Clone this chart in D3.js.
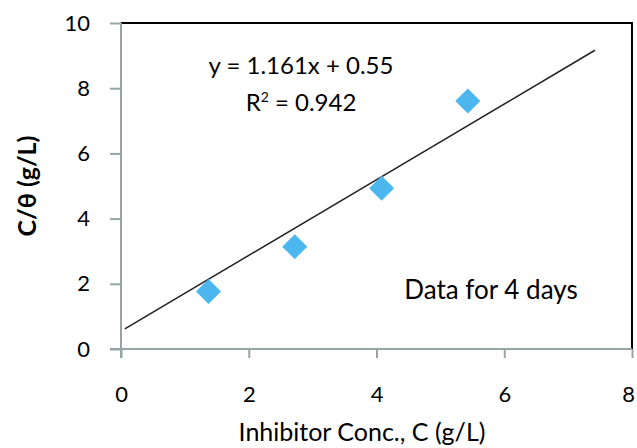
<!DOCTYPE html>
<html>
<head>
<meta charset="utf-8">
<script src="https://cdn.jsdelivr.net/npm/d3@7"></script>
<style>
	body { margin: 0; background: #fff; }
	text { font-family: Lato, "Open Sans", sans-serif; fill: #000; }
</style>
</head>
<body>
<svg id="chart" width="637" height="448"></svg>
<script>
// data
const concX = [1.37, 2.72, 4.08, 5.43];
const ratioY = [1.76, 3.14, 4.93, 7.61];
const trendSlope = 1.161;
const trendIntercept = 0.55;
const trendRange = [0.06, 7.42];
const xTicks = [0, 2, 4, 6, 8];
const yTicks = [0, 2, 4, 6, 8, 10];

const svg = d3.select("#chart");
const margin = { top: 23, right: 5, bottom: 99, left: 121 };
const width = +svg.attr("width");
const height = +svg.attr("height");

const x = d3.scaleLinear().domain([0, 8]).range([margin.left, width - margin.right]);
const y = d3.scaleLinear().domain([0, 10]).range([height - margin.bottom, margin.top]);

// frame: black top and right
svg.append("path")
	.attr("d", `M${x(0)},${y(10)}H${x(8)}V${y(0)}`)
	.attr("fill", "none")
	.attr("stroke", "#000")
	.attr("stroke-width", 2);

// axes
const axisColor = "#95a5a5";
const yAxis = svg.append("g")
	.attr("transform", `translate(${x(0)},0)`)
	.call(d3.axisLeft(y).tickValues(yTicks).tickSize(11).tickPadding(20));
const xAxis = svg.append("g")
	.attr("transform", `translate(0,${y(0)})`)
	.call(d3.axisBottom(x).tickValues(xTicks).tickSize(9).tickPadding(28));

[xAxis, yAxis].forEach((g) => {
	g.select(".domain").remove();
	g.selectAll(".tick line").attr("stroke", axisColor).attr("stroke-width", 2);
	g.selectAll(".tick text")
		.style("font-family", "Lato, sans-serif")
		.style("font-size", "22px")
		.attr("fill", "#000");
});
// last x label sits on the page edge, nudge it in so it stays whole
xAxis.selectAll(".tick text").filter((d) => d === 8).attr("dx", -4);

// axis lines extend slightly past the origin
svg.append("line")
	.attr("x1", x(0)).attr("x2", x(0))
	.attr("y1", y(10)).attr("y2", y(0) + 9)
	.attr("stroke", axisColor).attr("stroke-width", 2);
svg.append("line")
	.attr("x1", x(0) - 11).attr("x2", x(8))
	.attr("y1", y(0)).attr("y2", y(0))
	.attr("stroke", axisColor).attr("stroke-width", 2);

// trendline
svg.append("line")
	.attr("x1", x(trendRange[0]))
	.attr("y1", y(trendSlope * trendRange[0] + trendIntercept))
	.attr("x2", x(trendRange[1]))
	.attr("y2", y(trendSlope * trendRange[1] + trendIntercept))
	.attr("stroke", "#222")
	.attr("stroke-width", 1.5);

// diamond markers
const r = 12.5;
svg.append("g")
	.selectAll("path")
	.data(concX)
	.join("path")
	.attr("transform", (d, i) => `translate(${x(d)},${y(ratioY[i])})`)
	.attr("d", `M0,${-r}L${r},0L0,${r}L${-r},0Z`)
	.attr("fill", "#4cb6ef");

// equation and R²
svg.append("text")
	.attr("x", 301)
	.attr("y", 74)
	.attr("text-anchor", "middle")
	.style("font-size", "24px")
	.text(`y = ${trendSlope}x + ${trendIntercept}`);
const r2 = svg.append("text")
	.attr("x", 301)
	.attr("y", 111)
	.attr("text-anchor", "middle")
	.style("font-size", "24px");
r2.append("tspan").text("R");
r2.append("tspan").attr("dy", -9).style("font-size", "14px").text("2");
r2.append("tspan").attr("dy", 9).text(" = 0.942");

svg.append("text")
	.attr("x", 491)
	.attr("y", 299)
	.attr("text-anchor", "middle")
	.style("font-size", "26px")
	.text("Data for 4 days");

// axis titles
svg.append("text")
	.attr("x", 362)
	.attr("y", 441)
	.attr("text-anchor", "middle")
	.style("font-size", "25px")
	.text("Inhibitor Conc., C (g/L)");
svg.append("text")
	.attr("transform", "translate(36,186) rotate(-90)")
	.attr("text-anchor", "middle")
	.style("font-size", "25px")
	.style("font-weight", "bold")
	.text("C/θ (g/L)");
</script>
</body>
</html>
